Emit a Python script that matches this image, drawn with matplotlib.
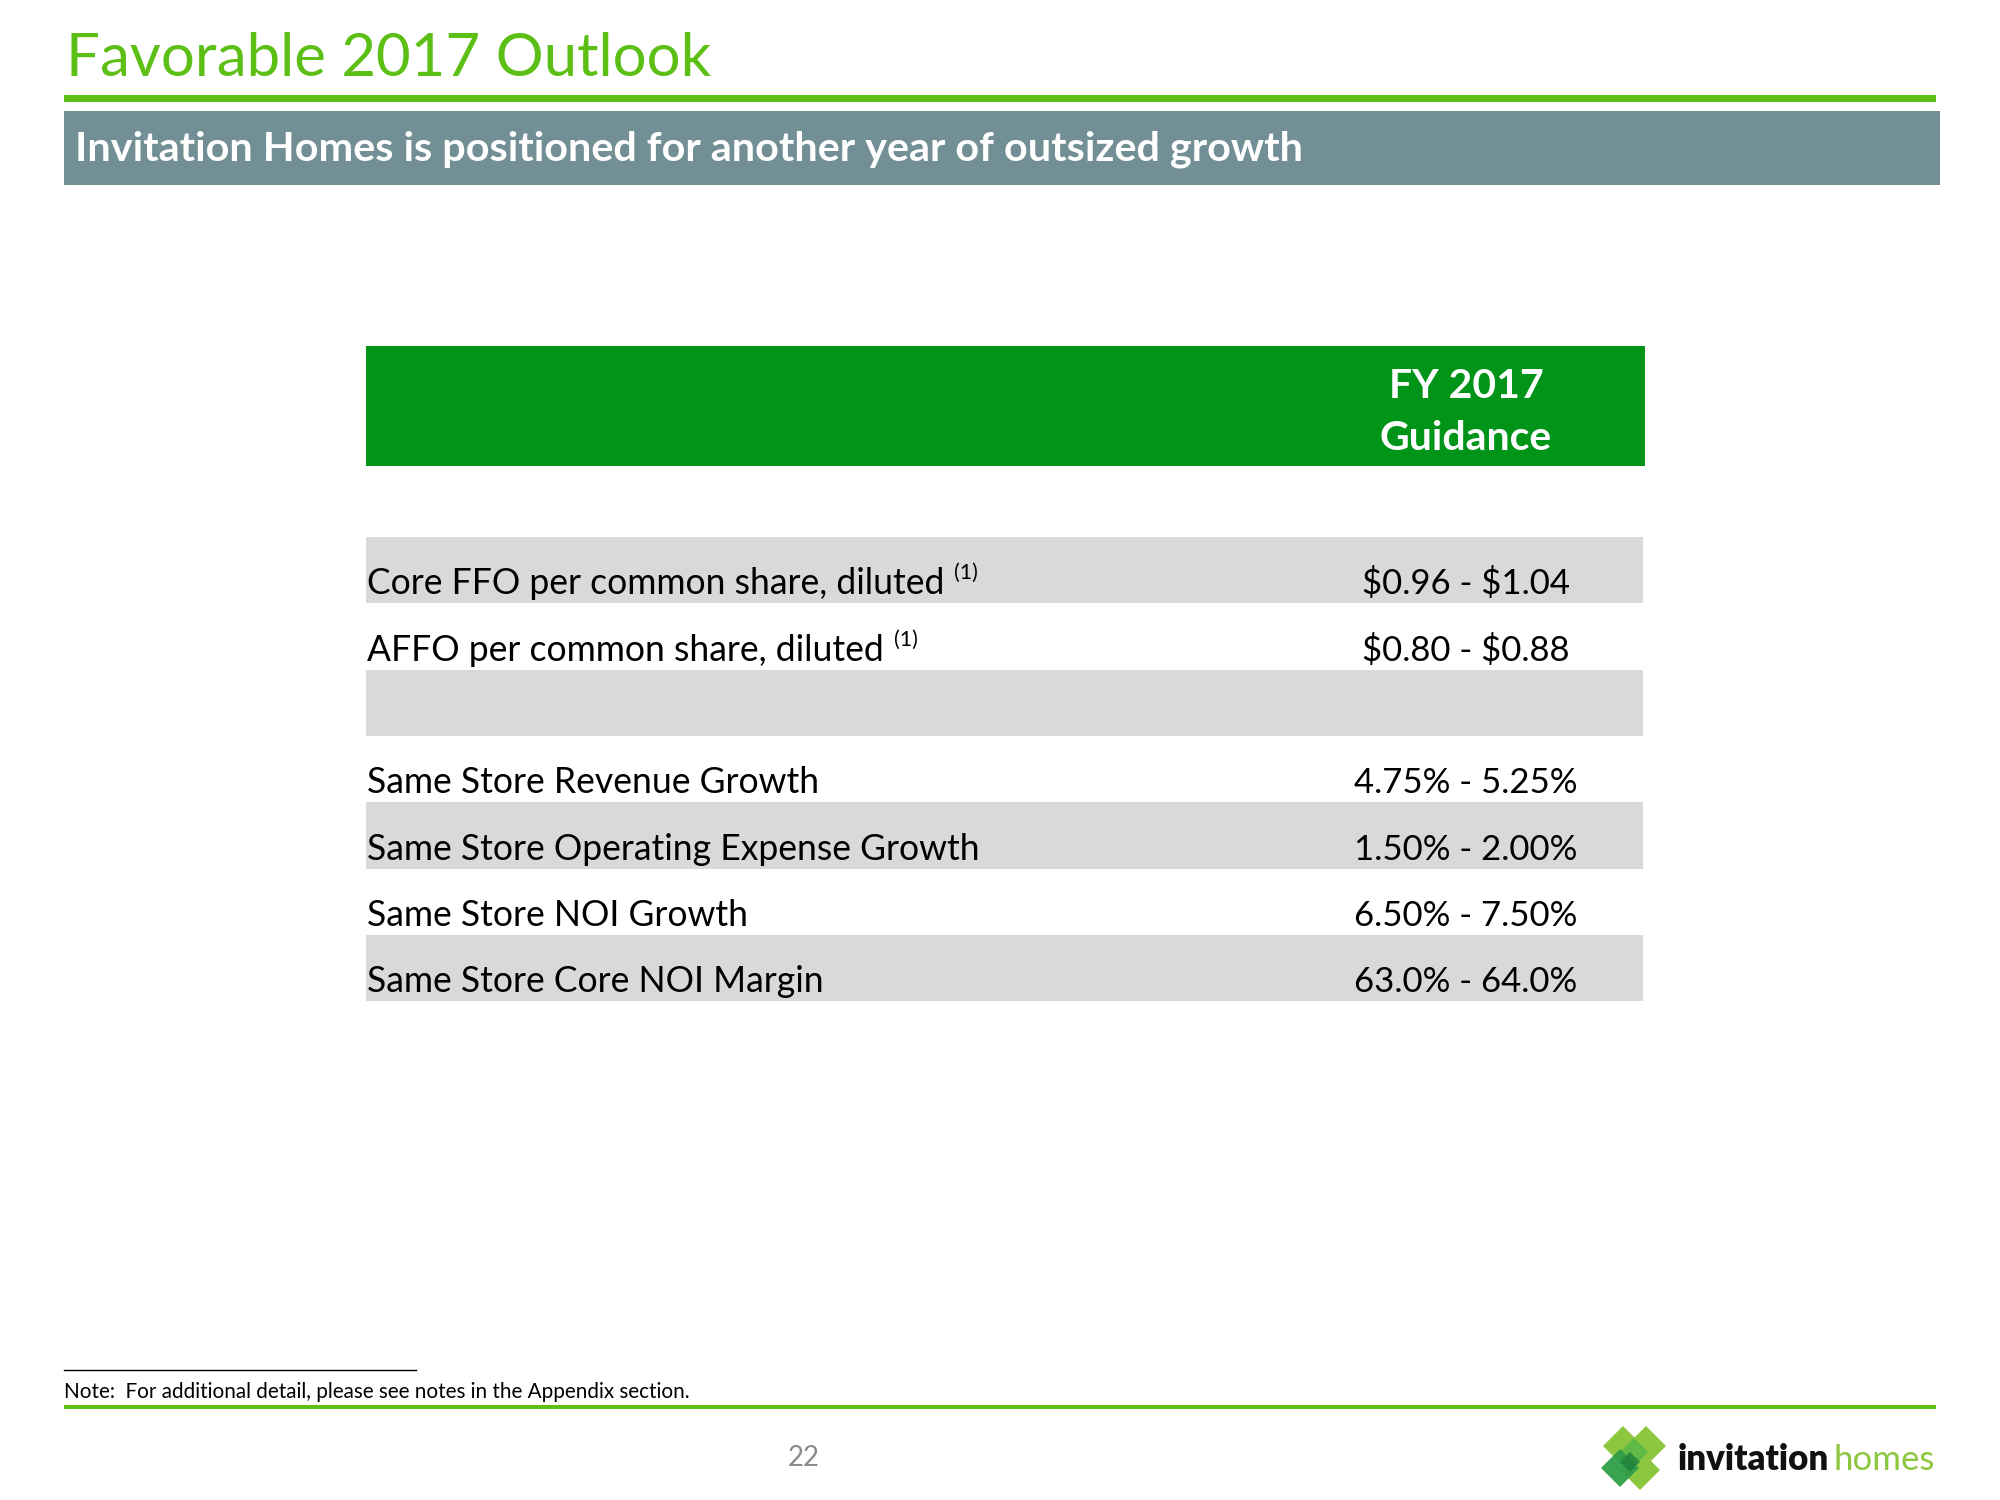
import matplotlib
matplotlib.use('Agg')
import matplotlib.pyplot as plt
from matplotlib.patches import Rectangle, Polygon

plt.rcParams['font.family'] = ['Lato', 'DejaVu Sans']

# slide text
title = "Favorable 2017 Outlook"
subtitle = "Invitation Homes is positioned for another year of outsized growth"
header = "FY 2017\nGuidance"
note = "Note:  For additional detail, please see notes in the Appendix section."
page_no = "22"

# table content
row_labels = ["Core FFO per common share, diluted",
              "AFFO per common share, diluted",
              "",
              "Same Store Revenue Growth",
              "Same Store Operating Expense Growth",
              "Same Store NOI Growth",
              "Same Store Core NOI Margin"]
row_values = ["$0.96 - $1.04", "$0.80 - $0.88", "",
              "4.75% - 5.25%", "1.50% - 2.00%", "6.50% - 7.50%", "63.0% - 64.0%"]
row_notes = ["(1)", "(1)", "", "", "", "", ""]
row_shaded = [True, False, True, False, True, False, True]

GREEN = '#5CBF16'
DARK_GREEN = '#009418'
BANNER = '#728F95'
GRAY = '#D9D9D9'

fig = plt.figure(figsize=(20, 15), dpi=100)
ax = fig.add_axes([0, 0, 1, 1])
ax.set_xlim(0, 2000)
ax.set_ylim(1500, 0)
ax.axis('off')

# title and banner
ax.text(66, 76, title, color=GREEN, fontsize=43.2, va='baseline', ha='left')
ax.add_patch(Rectangle((64, 95), 1872, 7, color=GREEN, lw=0))
ax.add_patch(Rectangle((64, 111), 1876, 74, color=BANNER, lw=0))
ax.text(75, 149, subtitle, color='white', fontsize=29.8, fontweight='bold',
        va='center', ha='left')

# table
tx0, tx1 = 366, 1645
val_x = 1466
ax.add_patch(Rectangle((tx0, 346), tx1 - tx0, 120, color=DARK_GREEN, lw=0))
ax.text(val_x, 412, header, color='white', fontsize=29.5, fontweight='bold',
        ha='center', va='center', linespacing=1.5)

top = 537
row_h = 66.3
fig.canvas.draw()
renderer = fig.canvas.get_renderer()
inv = ax.transData.inverted()
for i, (lab, val, nt, sh) in enumerate(zip(row_labels, row_values, row_notes, row_shaded)):
    y0 = top + i * row_h
    if sh:
        ax.add_patch(Rectangle((tx0, y0), 1643 - tx0, row_h, color=GRAY, lw=0))
    yb = y0 + 0.865 * row_h
    t = ax.text(tx0 + 1, yb, lab, fontsize=25.6, va='baseline', ha='left', color='black')
    ax.text(val_x, yb, val, fontsize=25, va='baseline', ha='center', color='black',
            parse_math=False)
    if nt:
        bb = t.get_window_extent(renderer)
        xe = inv.transform((bb.x1, bb.y0))[0]
        ax.text(xe + 10, yb - 15, nt, fontsize=15.5, va='baseline', ha='left', color='black')

# footnote
ax.plot([64, 416], [1370, 1370], color='black', lw=1)
ax.text(64, 1398, note, fontsize=14.9, va='baseline', ha='left', color='black')
ax.add_patch(Rectangle((64, 1405), 1872, 4, color=GREEN, lw=0))
ax.text(804, 1458, page_no, fontsize=20, color='#8C8C8C', ha='center', va='center')

# logo
def diamond(cx, cy, r, color, alpha=1.0):
    ax.add_patch(Polygon([(cx, cy - r), (cx + r, cy), (cx, cy + r), (cx - r, cy)],
                         closed=True, color=color, alpha=alpha, lw=0, joinstyle='round'))

diamond(1623, 1446, 20, '#8DC63F')
diamond(1646, 1446, 20, '#8DC63F')
diamond(1640, 1470, 20, '#8DC63F')
diamond(1634, 1452, 14, '#5DB847', 0.9)
diamond(1620, 1468, 19, '#2E9E48', 0.95)
diamond(1630, 1462, 10, '#1F7F3A', 0.8)
ax.text(1678, 1460, "invitation", fontsize=25, fontweight='heavy', color='#111111',
        va='center', ha='left')
ax.text(1833, 1460, "homes", fontsize=25, color='#8DC63F', va='center', ha='left')

fig.savefig('out.png', dpi=100, facecolor='white')
